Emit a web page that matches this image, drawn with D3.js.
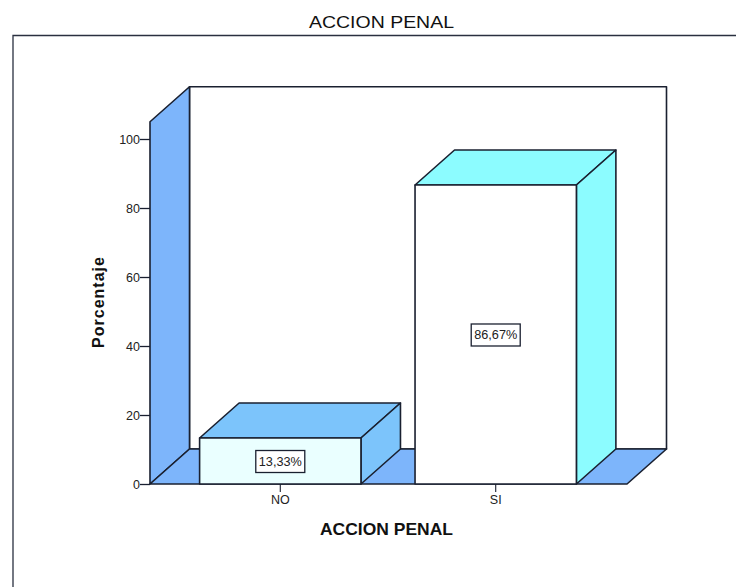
<!DOCTYPE html>
<html><head><meta charset="utf-8">
<script src="https://cdn.jsdelivr.net/npm/d3@7"></script>
<style>html,body{margin:0;padding:0;background:#fff}svg{display:block}text{font-family:"Liberation Sans",Arial,sans-serif}</style>
</head><body><svg id="c" width="736" height="587"></svg>
<script>
const categories=["NO","SI"];
const values=[13.33,86.67];
const valueLabels=["13,33%","86,67%"];
const yTicks=[0,20,40,60,80,100];
const chartTitle="ACCION PENAL";
const xTitle="ACCION PENAL";
const yTitle="Porcentaje";
const frontColors=["#eaffff","#ffffff"];
const sideColors=["#7cc4fb","#8cfcff"];

const svg=d3.select("#c");
const W=736,H=587,ink="#1a2030";
const y=d3.scaleLinear().domain([0,100]).range([484,139]);
const yTop=105;
const L=150,R=627;
const x=d3.scaleBand().domain(categories).range([L-0.5,R-0.5]).paddingInner(0.251).paddingOuter(0.2326);
const dx=39.5,dy=-35;
const line=d3.line();
const poly=(pts,fill,sw=1.6)=>svg.append("path").attr("d",line(pts)+"Z").attr("fill",fill).attr("stroke",ink).attr("stroke-width",sw).attr("stroke-linejoin","round");

svg.append("rect").attr("width",W).attr("height",H).attr("fill","#fff");
svg.append("path").attr("d",line([[13,H],[13,35.5],[W,35.5]])).attr("fill","none").attr("stroke","#2a3040").attr("stroke-width",1.3);
svg.append("text").attr("x",381.5).attr("y",28).attr("text-anchor","middle").attr("font-size",17).attr("textLength",145).attr("lengthAdjust","spacingAndGlyphs").attr("fill","#111").text(chartTitle);

// walls
poly([[L+dx,y(yTop)+dy],[R+dx,y(yTop)+dy],[R+dx,y(0)+dy],[L+dx,y(0)+dy]],"#fff");
poly([[L,y(0)],[L,y(yTop)],[L+dx,y(yTop)+dy],[L+dx,y(0)+dy]],"#7db5fb");
poly([[L,y(0)],[R,y(0)],[R+dx,y(0)+dy],[L+dx,y(0)+dy]],"#7db5fb");

// bars
categories.forEach((c,i)=>{
  const a=x(c),b=a+x.bandwidth(),t=y(values[i]),z=y(0);
  poly([[a,t],[a+dx,t+dy],[b+dx,t+dy],[b,t]],sideColors[i]);
  poly([[b,z],[b,t],[b+dx,t+dy],[b+dx,z+dy]],sideColors[i]);
  poly([[a,z],[a,t],[b,t],[b,z]],frontColors[i]);
});

// value labels
categories.forEach((c,i)=>{
  const cx=x(c)+x.bandwidth()/2,cy=y(values[i]/2);
  svg.append("rect").attr("x",cx-24.5).attr("y",cy-10.5).attr("width",49).attr("height",22).attr("fill","#fff").attr("stroke",ink).attr("stroke-width",1.3);
  svg.append("text").attr("x",cx).attr("y",cy+5).attr("text-anchor","middle").attr("font-size",12.7).attr("fill","#222").text(valueLabels[i]);
});

// axes
const gy=svg.append("g").attr("transform",`translate(${L},0)`).call(d3.axisLeft(y).tickValues(yTicks).tickSize(10).tickPadding(0));
gy.select(".domain").remove();
gy.selectAll("line").attr("stroke",ink).attr("stroke-width",1.3);
gy.selectAll("text").attr("font-size",12.5).attr("fill","#222").attr("font-family","Liberation Sans");
const gx=svg.append("g").attr("transform",`translate(0,${y(0)})`).call(d3.axisBottom(x).tickSize(8).tickPadding(3));
gx.select(".domain").remove();
gx.selectAll("line").attr("stroke",ink).attr("stroke-width",1.1);
gx.selectAll("text").attr("font-size",12.5).attr("fill","#222").attr("font-family","Liberation Sans");

svg.append("text").attr("x",386.5).attr("y",535).attr("text-anchor","middle").attr("font-size",16.5).attr("font-weight","bold").attr("textLength",133).attr("lengthAdjust","spacingAndGlyphs").attr("fill","#111").text(xTitle);
svg.append("text").attr("transform","translate(103.5,302.5) rotate(-90)").attr("text-anchor","middle").attr("font-size",16).attr("font-weight","bold").attr("textLength",91).attr("lengthAdjust","spacing").attr("fill","#111").text(yTitle);
</script></body></html>
